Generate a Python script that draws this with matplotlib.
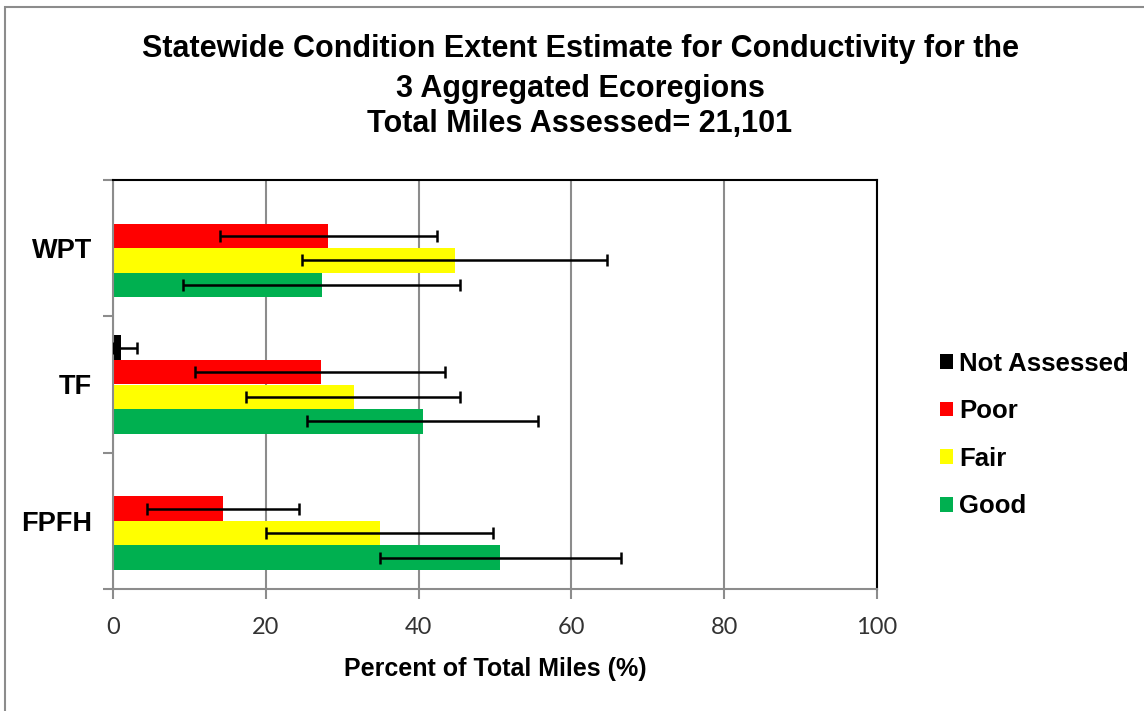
import numpy as np
import matplotlib.pyplot as plt
from matplotlib.patches import Rectangle

# data
regions = ['FPFH', 'TF', 'WPT']
series = ['Not Assessed', 'Poor', 'Fair', 'Good']
colors = ['#000000', '#ff0000', '#ffff00', '#00b050']

not_assessed = [0.0, 1.1, 0.0]
poor = [14.4, 27.2, 28.2]
fair = [35.0, 31.5, 44.7]
good = [50.6, 40.6, 27.4]

# confidence limits (lower, upper)
not_assessed_lo = [0.0, 0.0, 0.0]
not_assessed_hi = [0.0, 3.2, 0.0]
poor_lo = [4.5, 10.7, 14.0]
poor_hi = [24.3, 43.5, 42.4]
fair_lo = [20.0, 17.4, 24.7]
fair_hi = [49.8, 45.4, 64.6]
good_lo = [35.0, 25.4, 9.2]
good_hi = [66.5, 55.6, 45.4]

title_lines = ['Statewide Condition Extent Estimate for Conductivity for the',
               '3 Aggregated Ecoregions',
               'Total Miles Assessed= 21,101']

values = [not_assessed, poor, fair, good]
lows = [not_assessed_lo, poor_lo, fair_lo, good_lo]
highs = [not_assessed_hi, poor_hi, fair_hi, good_hi]

fig = plt.figure(figsize=(11.44, 7.11), dpi=100)
ax = fig.add_axes([113 / 1144, 1 - 589 / 711, (877 - 113) / 1144, (589 - 180) / 711])

# outer chart border (only left/top visible in the reference)
fig.patches.append(Rectangle((5 / 1144, -0.1), 1.2, 1 - 7 / 711 + 0.1, transform=fig.transFigure,
                             fill=False, edgecolor='#8c8c8c', linewidth=1.5))

y = np.arange(len(regions))
h = 0.18
offsets = [1.5 * h, 0.5 * h, -0.5 * h, -1.5 * h]

for i in range(4):
    v = np.array(values[i])
    lo = np.array(lows[i])
    hi = np.array(highs[i])
    ax.barh(y + offsets[i], v, height=h, color=colors[i], label=series[i], zorder=2)
    mask = hi > 0
    ax.errorbar(v[mask], (y + offsets[i])[mask],
                xerr=[(v - lo)[mask], (hi - v)[mask]],
                fmt='none', ecolor='black', elinewidth=1.8, capsize=4, capthick=1.8, zorder=3)

ax.set_xlim(0, 100)
ax.set_ylim(-0.5, 2.5)
ax.set_xticks([0, 20, 40, 60, 80, 100])
ax.set_yticks(y)
ax.set_yticks([-0.5, 0.5, 1.5, 2.5], minor=True)
ax.set_yticklabels(regions, fontfamily='Liberation Sans', fontweight='bold', fontsize=19.5)
ax.tick_params(axis='y', which='major', length=0, pad=15)
ax.tick_params(axis='y', which='minor', length=7, color='#8c8c8c', width=1.5)
ax.tick_params(axis='x', length=7, color='#8c8c8c', width=1.5, pad=13)
for lab in ax.get_xticklabels():
    lab.set_fontfamily('Lato')
    lab.set_fontsize(17)
    lab.set_color('#333333')

ax.grid(axis='x', color='#8c8c8c', linewidth=1.5, zorder=0)
ax.set_axisbelow(True)
ax.spines['left'].set_color('#8c8c8c')
ax.spines['bottom'].set_color('#8c8c8c')
for s in ['left', 'bottom', 'top', 'right']:
    ax.spines[s].set_linewidth(1.5)
ax.spines['top'].set_color('black')
ax.spines['right'].set_color('black')

ax.set_xlabel('Percent of Total Miles (%)', fontfamily='Liberation Sans', fontweight='bold',
              fontsize=18, labelpad=14)

# title lines, baselines
for line, base in zip(title_lines, [57, 97, 132]):
    fig.text(0.507, 1 - base / 711, line, ha='center', va='baseline',
             fontfamily='Liberation Sans', fontweight='bold', fontsize=22)

handles, labels = ax.get_legend_handles_labels()
leg = fig.legend(handles, labels, loc='center left', bbox_to_anchor=(917 / 1144, 1 - 435 / 711),
                 frameon=False, prop={'family': 'Liberation Sans', 'weight': 'bold', 'size': 18.5},
                 handlelength=0.5, handleheight=0.5, handletextpad=0.25, labelspacing=0.92)

fig.savefig('out.png', dpi=100)
